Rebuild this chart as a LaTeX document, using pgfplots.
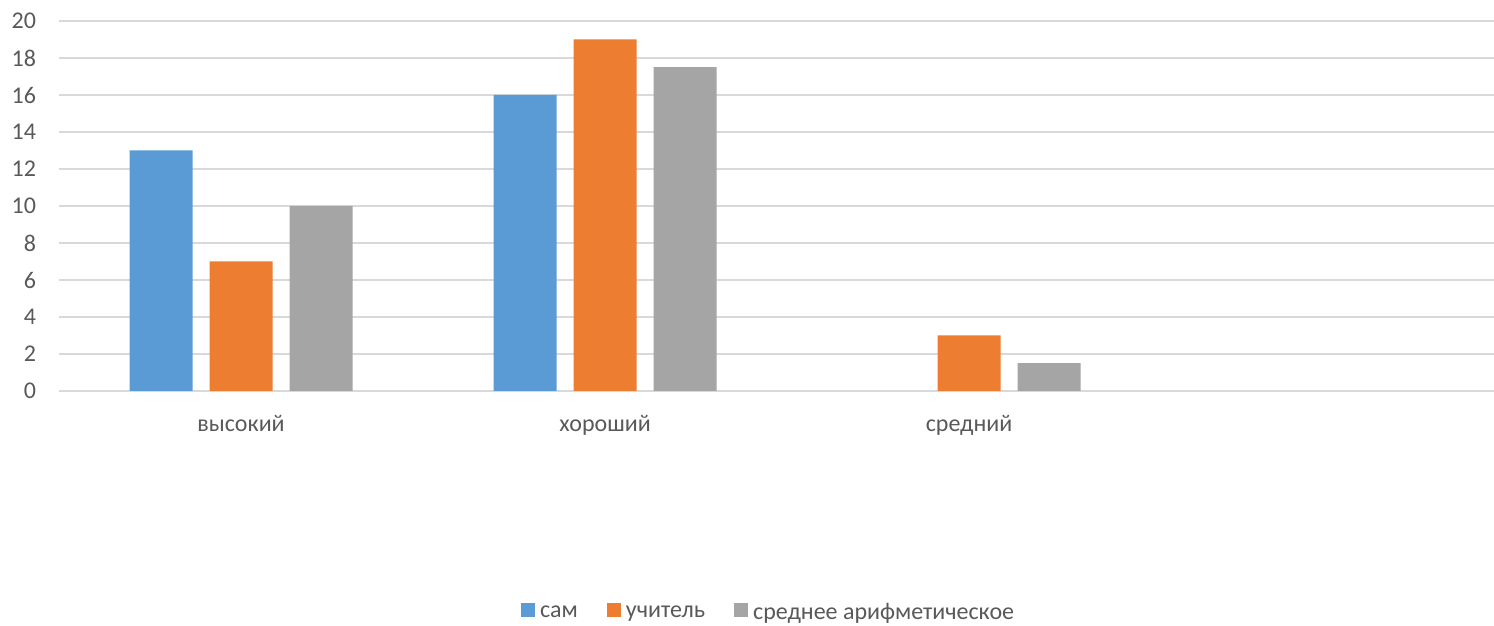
\documentclass[border=0pt]{standalone}
\usepackage{pgfplots}
\pgfplotsset{compat=1.18}
\usepackage{fontspec}
\setmainfont{Carlito}
\definecolor{cblue}{HTML}{5B9BD5}
\definecolor{corange}{HTML}{ED7D31}
\definecolor{cgray}{HTML}{A5A5A5}
\definecolor{ctext}{HTML}{595959}
\definecolor{cgrid}{HTML}{D9D9D9}
\begin{document}
\begin{tikzpicture}
\path[use as bounding box] (0,0) rectangle (747pt,313pt);
\begin{axis}[
  at={(29.5pt,117.5pt)}, anchor=south west,
  scale only axis, width=717.5pt, height=185pt,
  ybar=8.5pt, bar width=31.5pt,
  xmin=-0.5, xmax=3.442, ymin=0, ymax=20,
  xtick={0,1,2}, xticklabels={высокий,хороший,средний},
  ytick={0,2,...,20},
  major tick length=0pt,
  axis line style={draw=none},
  ymajorgrids, grid style={cgrid, line width=0.8pt},
  tick label style={font=\fontsize{12}{14}\selectfont, text=ctext},
  /pgf/number format/assume math mode=true,
  yticklabel style={xshift=-8pt},
  xticklabel style={yshift=-8.5pt},
  legend style={at={(0.4955,-0.6)}, anchor=center, draw=none,
    legend columns=3, font=\fontsize{12}{14}\selectfont, text=ctext,
    nodes={inner xsep=2.5pt},
    /tikz/every even column/.append style={column sep=12pt}},
  legend image code/.code={\fill[#1] (0pt,-1.8pt) rectangle (7pt,5.2pt);},
  clip=false,
]
\addplot[fill=cblue, draw=none] coordinates {(0,13) (1,16)};
\addplot[fill=corange, draw=none] coordinates {(0,7) (1,19) (2,3)};
\addplot[fill=cgray, draw=none] coordinates {(0,10) (1,17.5) (2,1.5)};
\legend{сам,учитель,среднее арифметическое}
\end{axis}
\end{tikzpicture}
\end{document}
